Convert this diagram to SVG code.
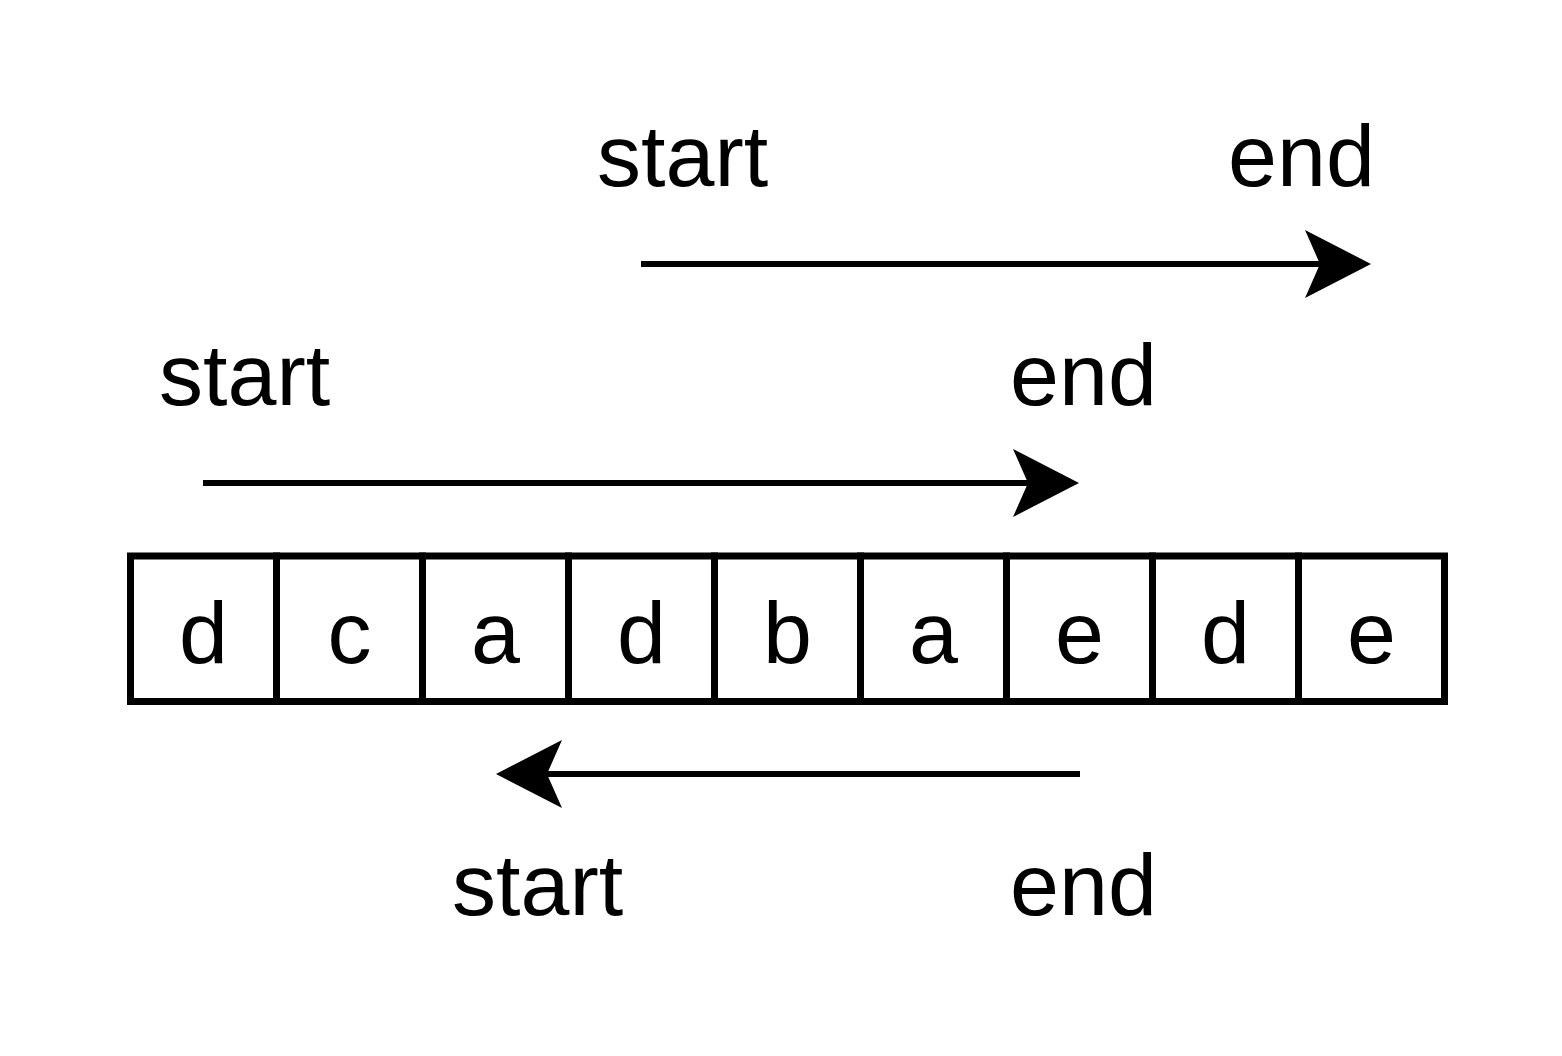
<svg xmlns="http://www.w3.org/2000/svg" width="1562" height="1056" viewBox="0 0 1562 1056">
<style>
.cell{fill:#fff;stroke:#000;stroke-width:7}
.ch{font-family:"Liberation Sans",Arial,sans-serif;font-size:88px;text-anchor:middle;fill:#000}
.lbl{font-family:"Liberation Sans",Arial,sans-serif;font-size:88px;fill:#000}
.arr{stroke:#000;stroke-width:6;fill:none;marker-end:url(#ah)}
</style>
<defs>
<marker id="ah" markerUnits="userSpaceOnUse" markerWidth="70" markerHeight="70" refX="15" refY="34" orient="auto" overflow="visible">
<path d="M0,0 L66,34 L0,68 L15,34 Z" fill="#000"/>
</marker>
</defs>
<rect width="1562" height="1056" fill="#fff"/>
<g id="cells">
<g id="c1"><rect class="cell" x="130.5" y="556" width="146" height="145.5"/><text class="ch" x="203.5" y="663">d</text></g>
<g id="c2"><rect class="cell" x="276.5" y="556" width="146" height="145.5"/><text class="ch" x="349.5" y="663">c</text></g>
<g id="c3"><rect class="cell" x="422.5" y="556" width="146" height="145.5"/><text class="ch" x="495.5" y="663">a</text></g>
<g id="c4"><rect class="cell" x="568.5" y="556" width="146" height="145.5"/><text class="ch" x="641.5" y="663">d</text></g>
<g id="c5"><rect class="cell" x="714.5" y="556" width="146" height="145.5"/><text class="ch" x="787.5" y="663">b</text></g>
<g id="c6"><rect class="cell" x="860.5" y="556" width="146" height="145.5"/><text class="ch" x="933.5" y="663">a</text></g>
<g id="c7"><rect class="cell" x="1006.5" y="556" width="146" height="145.5"/><text class="ch" x="1079.5" y="663">e</text></g>
<g id="c8"><rect class="cell" x="1152.5" y="556" width="146" height="145.5"/><text class="ch" x="1225.5" y="663">d</text></g>
<g id="c9"><rect class="cell" x="1298.5" y="556" width="146" height="145.5"/><text class="ch" x="1371.5" y="663">e</text></g>
</g>
<g id="labels">
<text class="lbl" x="597" y="186">start</text>
<text class="lbl" x="1228" y="186">end</text>
<text class="lbl" x="159" y="405">start</text>
<text class="lbl" x="1010" y="405">end</text>
<text class="lbl" x="452" y="915">start</text>
<text class="lbl" x="1010" y="915">end</text>
</g>
<g id="connectors">
<line class="arr" x1="641" y1="264" x2="1320" y2="264"/>
<line class="arr" x1="203" y1="483" x2="1028" y2="483"/>
<line class="arr" x1="1080" y1="774" x2="547" y2="774"/>
</g>
</svg>
